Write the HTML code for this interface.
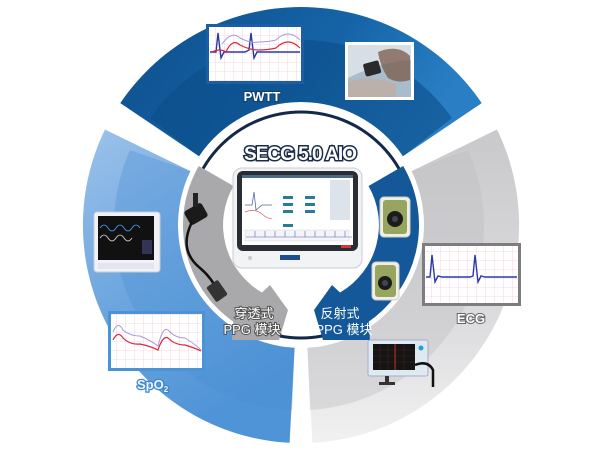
<!DOCTYPE html>
<html><head><meta charset="utf-8"><style>
html,body{margin:0;padding:0;background:#fff;}
svg{display:block;}
text{font-family:"Liberation Sans","Noto Sans CJK SC",sans-serif;}
</style></head><body>
<svg width="600" height="450" viewBox="0 0 600 450" xmlns="http://www.w3.org/2000/svg">
<defs>
<linearGradient id="gTop" x1="0" y1="0" x2="1" y2="0.3">
<stop offset="0" stop-color="#0e4f8c"/><stop offset="0.6" stop-color="#1563a6"/><stop offset="1" stop-color="#2a7fc4"/></linearGradient>
<linearGradient id="gLeft" x1="0" y1="0" x2="0.4" y2="1">
<stop offset="0" stop-color="#9cc2ea"/><stop offset="0.5" stop-color="#6fa7df"/><stop offset="1" stop-color="#4f94d6"/></linearGradient>
<linearGradient id="gRight" x1="0" y1="0" x2="0" y2="1">
<stop offset="0" stop-color="#c9c9cb"/><stop offset="0.6" stop-color="#dcdcde"/><stop offset="1" stop-color="#f1f1f2"/></linearGradient>
<pattern id="grid" width="9" height="9" patternUnits="userSpaceOnUse">
<rect width="9" height="9" fill="#fff"/><path d="M9 0V9M0 9H9" stroke="#f0b8c4" stroke-width="0.6"/></pattern>
</defs>
<!-- ring sectors -->
<path d="M120.3,103.1 A218,218 0 0 1 481.7,103.1 L403,156.2 A123,123 0 0 0 199,156.2 Z" fill="url(#gTop)"/>
<path d="M497,129.5 A218 218 0 0 1 312.4,442.8 L307.4,347.8 A123 123 0 0 0 411.6,171.1 Z" fill="url(#gRight)"/>
<path d="M289.6,442.8 A218 218 0 0 1 105,129.5 L190.4,171.1 A123 123 0 0 0 294.6,347.8 Z" fill="url(#gLeft)"/>
<!-- inner darker bands -->
<path d="M150,118 A185,185 0 0 1 452,118 L403,156.2 A123,123 0 0 0 199,156.2 Z" fill="#0b4c88" opacity="0.6"/>
<path d="M292,410 A185 185 0 0 1 130,150 L190.4,171.1 A123 123 0 0 0 294.6,347.8 Z" fill="#4a8fd3" opacity="0.35"/>
<path d="M468,150 A185 185 0 0 1 310,410 L307.4,347.8 A123 123 0 0 0 411.6,171.1 Z" fill="#bdbdc0" opacity="0.4"/>
<!-- dark inner circle line -->
<circle cx="301" cy="225" r="113" fill="#fff" stroke="#13294a" stroke-width="3"/>
<!-- inner arrows -->
<path d="M198.8,166 A118 118 0 0 0 233.3,321.7 L232,340 L279,340 L288,310 L270,285 L262,292.5 A78 78 0 0 1 233.5,186 Z" fill="#a9a9ab"/>
<path d="M403.2,166 A118 118 0 0 1 368.7,321.7 L370,340 L323,340 L314,310 L332,285 L340,292.5 A78 78 0 0 0 368.5,186 Z" fill="#14589a"/>
<text x="254" y="318" font-size="13" fill="#fff" text-anchor="middle" stroke="#555" stroke-width="2" paint-order="stroke">穿透式</text>
<text x="252" y="334" font-size="13" fill="#fff" text-anchor="middle" stroke="#555" stroke-width="2" paint-order="stroke">PPG 模块</text>
<text x="340" y="318" font-size="13" fill="#fff" text-anchor="middle">反射式</text>
<text x="344" y="334" font-size="13" fill="#fff" text-anchor="middle">PPG 模块</text>
<!-- title -->
<text x="300" y="160" font-size="19" font-weight="bold" fill="#fff" stroke="#1a2d4a" stroke-width="3" paint-order="stroke" text-anchor="middle" letter-spacing="-1">SECG 5.0 AIO</text>
<!-- tablet -->
<rect x="233" y="168" width="129" height="100" rx="9" fill="#f2f3f5" stroke="#c9ccd2"/>
<rect x="237" y="171" width="121" height="80" rx="6" fill="#2a2d33"/>
<rect x="242" y="175" width="111" height="70" fill="#fff"/>
<rect x="242" y="175" width="111" height="3" fill="#4a6a8a"/>
<rect x="330" y="180" width="20" height="40" fill="#dde3ea"/>
<g fill="#2a7a9a"><rect x="283" y="196" width="10" height="3"/><rect x="283" y="203" width="10" height="3"/><rect x="283" y="210" width="10" height="3"/><rect x="305" y="196" width="10" height="3"/><rect x="305" y="203" width="10" height="3"/><rect x="305" y="210" width="10" height="3"/><rect x="283" y="224" width="10" height="3"/></g>
<path d="M245 205 L252 205 L254 192 L256 210 L262 205 L272 205" fill="none" stroke="#5566aa" stroke-width="0.8"/>
<path d="M245 212 Q255 208 262 214 T272 218" fill="none" stroke="#d86070" stroke-width="0.7"/>
<rect x="245" y="230" width="104" height="11" fill="#f4f4fa" stroke="#ccc" stroke-width="0.4"/>
<path d="M246 237 H352" stroke="#5560aa" stroke-width="0.6"/>
<g stroke="#5560aa" stroke-width="0.6"><path d="M255 237V231M265 237V231M275 237V231M285 237V231M295 237V231M305 237V231M315 237V231M325 237V231M335 237V231M345 237V231"/></g>
<rect x="341" y="245" width="10" height="3" fill="#d33"/>
<rect x="280" y="255" width="20" height="5" fill="#1c4f8e"/>
<circle cx="250" cy="258" r="2" fill="#ccc"/>
<!-- PWTT chart -->
<rect x="206" y="24" width="98" height="60" fill="#1a5fa6"/>
<rect x="209" y="27" width="92" height="54" fill="url(#grid)"/>
<path d="M210 52 L216 52 L218 33 L221 58 L224 52 L235 52 L245 52 L249 50 L251 33 L254 58 L257 52 L262 52 L268 52 L285 52 L300 52" fill="none" stroke="#2a3aa8" stroke-width="1.4"/>
<path d="M212 52 Q220 48 226 52 Q232 38 240 45 Q250 50 258 50 Q268 50 276 48 Q288 36 300 48" fill="none" stroke="#d8283a" stroke-width="1.2"/>
<path d="M222 44 Q232 30 240 38 Q252 44 258 42 Q268 42 276 40 Q288 28 300 40" fill="none" stroke="#a89ad8" stroke-width="1"/>
<text x="262" y="101" font-size="13" font-weight="bold" fill="#fff" text-anchor="middle" stroke="#0e3d6e" stroke-width="2" paint-order="stroke">PWTT</text>
<!-- watch photo -->
<rect x="345" y="42" width="69" height="58" fill="#fff"/>
<rect x="348" y="45" width="63" height="52" fill="#a9bccb"/>
<path d="M348 45 H411 V60 Q380 62 348 78 Z" fill="#d6dfe6"/>
<path d="M378 52 Q398 44 410 56 V80 Q398 84 388 78 Q380 66 378 52 Z" fill="#7a5a48" opacity="0.75"/>
<rect x="364" y="62" width="16" height="13" rx="2" fill="#2a2a2a" transform="rotate(-15 372 68)"/>
<path d="M348 82 Q370 74 396 84 L396 97 H348 Z" fill="#c9a894" opacity="0.6"/>
<!-- left monitor -->
<rect x="94" y="212" width="66" height="60" rx="3" fill="#f0f2f7" stroke="#c8ccd6"/>
<rect x="98" y="216" width="56" height="44" fill="#111"/>
<path d="M100 228 Q104 222 108 228 T116 228 T124 228 T132 228 T140 228" fill="none" stroke="#4aa3ff" stroke-width="0.8"/>
<path d="M100 238 Q104 232 108 238 T116 238 T124 238 T132 238" fill="none" stroke="#ddd" stroke-width="0.8"/>
<rect x="142" y="240" width="10" height="14" fill="#335"/>
<rect x="98" y="263" width="56" height="6" fill="#e3e6ef"/>
<!-- cable -->
<rect x="186" y="206" width="20" height="16" rx="3" fill="#1a1a1a" transform="rotate(-30 196 214)"/>
<rect x="193" y="193" width="5" height="14" fill="#222"/>
<path d="M192 222 Q178 250 200 268 Q212 278 218 292" fill="none" stroke="#111" stroke-width="2.5"/>
<rect x="210" y="282" width="14" height="18" rx="2" fill="#333" transform="rotate(-35 217 291)"/>
<!-- sensors -->
<rect x="380" y="197" width="30" height="40" rx="4" fill="#f0efe4" stroke="#ccc"/>
<rect x="383" y="200" width="24" height="34" rx="3" fill="#98a560"/>
<circle cx="395" cy="219" r="8" fill="#1a1d1a"/><circle cx="395" cy="219" r="3" fill="#445"/>
<rect x="372" y="262" width="27" height="38" rx="4" fill="#f0efe4" stroke="#ccc"/>
<rect x="375" y="265" width="21" height="32" rx="3" fill="#98a560"/>
<circle cx="385" cy="283" r="7" fill="#1a1d1a"/><circle cx="385" cy="283" r="3" fill="#445"/>
<!-- ECG chart -->
<rect x="422" y="243" width="99" height="63" fill="#7d7d7f"/>
<rect x="425" y="246" width="93" height="57" fill="url(#grid)"/>
<path d="M426 277 L430 277 L432 255 L435 282 L438 276 L442 277 L470 277 L473 276 L475 255 L478 282 L481 276 L485 277 L517 277" fill="none" stroke="#2a3aa8" stroke-width="1.4"/>
<text x="471" y="323" font-size="13" font-weight="bold" fill="#fff" text-anchor="middle" stroke="#666" stroke-width="2" paint-order="stroke">ECG</text>
<!-- ECG device -->
<rect x="368" y="340" width="60" height="36" rx="2" fill="#dfe9f0" stroke="#aac"/>
<rect x="373" y="344" width="42" height="26" fill="#141414"/>
<path d="M373 350H415M373 356H415M373 362H415M380 344V370M388 344V370M396 344V370M404 344V370" stroke="#5a2020" stroke-width="0.4"/>
<path d="M395 344V370" stroke="#d33" stroke-width="0.8"/>
<circle cx="421" cy="348" r="2.5" fill="#2aa0d0"/>
<path d="M415 365 Q428 360 433 370 L433 387" fill="none" stroke="#111" stroke-width="2.5"/>
<rect x="385" y="376" width="4" height="6" fill="#333"/><rect x="379" y="382" width="16" height="3" fill="#333"/>
<!-- SpO2 chart -->
<rect x="108" y="311" width="97" height="60" fill="#4a94d6"/>
<rect x="111" y="314" width="91" height="54" fill="url(#grid)"/>
<path d="M113 340 Q118 330 123 338 Q130 345 140 344 Q150 346 158 350 Q163 335 168 338 Q175 345 185 345 Q195 348 201 351" fill="none" stroke="#d8283a" stroke-width="1.2"/>
<path d="M113 332 Q118 320 123 330 Q130 336 140 336 Q150 340 158 346 Q163 326 168 330 Q175 338 185 338 Q195 344 201 350" fill="none" stroke="#a89ad8" stroke-width="1"/>
<text x="137" y="389" font-size="13" font-weight="bold" fill="#eef5fc" stroke="#3e88cc" stroke-width="2.5" paint-order="stroke">SpO<tspan font-size="8" dy="3">2</tspan></text>
</svg>
</body></html>
